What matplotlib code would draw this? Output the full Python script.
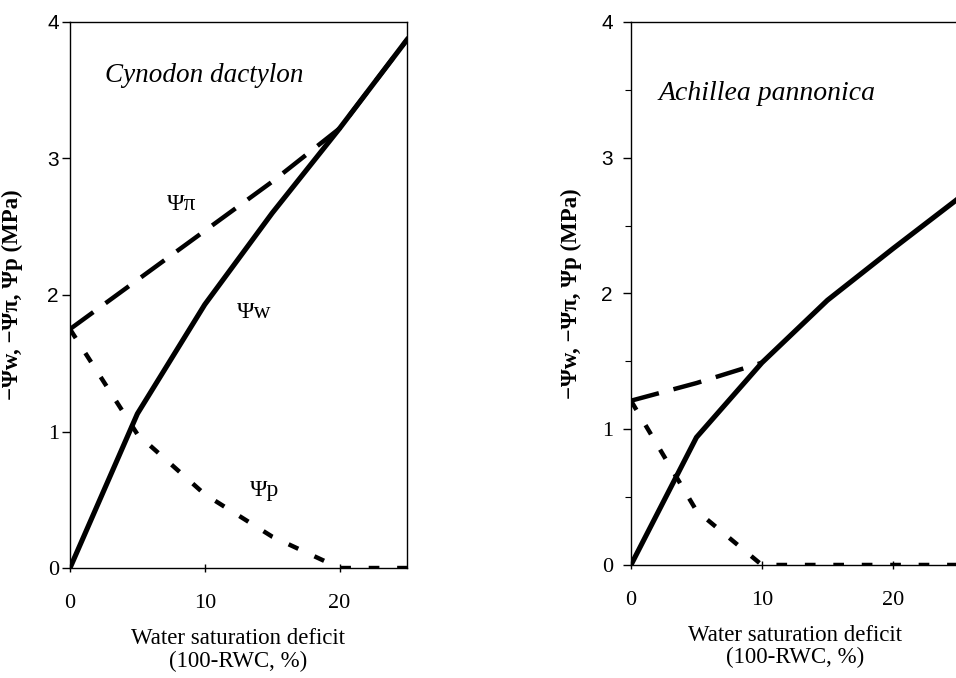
import matplotlib.pyplot as plt
from matplotlib.ticker import MultipleLocator

plt.rcParams['font.family'] = ['Liberation Serif', 'DejaVu Serif']

# water saturation deficit (%)
wsd = [0, 5, 10, 15, 20, 25]

# Cynodon dactylon
cyn_w = [0, 1.13, 1.93, 2.60, 3.22, 3.87]
cyn_pi = [1.75, 2.11, 2.47, 2.83, 3.22, 3.87]
cyn_p = [1.75, 0.98, 0.54, 0.23, 0, 0]

# Achillea pannonica
ach_w = [0, 0.94, 1.49, 1.95, 2.33, 2.70]
ach_pi_x = [0, 5, 10]
ach_pi = [1.21, 1.34, 1.49]
ach_p = [1.21, 0.40, 0, 0, 0, 0]

yticks = [0, 1, 2, 3, 4]
xticks = [0, 10, 20]
ylab = "\u2212\u03a8w, \u2212\u03a8\u03c0, \u03a8p (MPa)"
xlab = "Water saturation deficit\n(100-RWC, %)"

LW = 3.2
long_dash = (0, (6.5, 3.4))
short_dash = (0, (2.4, 4.0))

fig = plt.figure(figsize=(9.56, 6.78), dpi=100)
ax1 = fig.add_axes([0.0732, 0.1622, 0.3525, 0.8054])
ax2 = fig.add_axes([0.6600, 0.1667, 0.3425, 0.8009])


def style(ax, ypad, minor):
    ax.set_xlim(0, 25)
    ax.set_ylim(0, 4)
    ax.set_xticks(xticks)
    ax.set_yticks(yticks)
    for s in ax.spines.values():
        s.set_linewidth(1.0)
    ax.tick_params(axis='x', direction='inout', length=6, width=1, pad=16,
                   labelsize=16)
    ax.tick_params(axis='y', direction='out', length=6, width=1, pad=ypad,
                   labelsize=16)
    if minor:
        ax.yaxis.set_minor_locator(MultipleLocator(0.5))
        ax.tick_params(axis='y', which='minor', direction='out', length=4,
                       width=0.8)
    # scanned figure: upper y labels came out in a sans face
    for lbl in ax.get_yticklabels():
        if lbl.get_text() in ('2', '3', '4'):
            lbl.set_fontfamily(['Liberation Sans', 'DejaVu Sans'])
            lbl.set_fontsize(15)
    ax.set_ylabel(ylab, fontsize=16.5, fontweight='bold')
    ax.set_xlabel(xlab, fontsize=16.5, linespacing=1.1)


# left panel
ax1.plot(wsd, cyn_pi, color='black', lw=LW, ls=long_dash,
         dash_capstyle='butt', zorder=2)
ax1.plot(wsd, cyn_p, color='black', lw=LW, ls=short_dash,
         dash_capstyle='butt', zorder=2)
ax1.plot(wsd, cyn_w, color='black', lw=LW + 0.5, zorder=3)
style(ax1, 2, False)
ax1.yaxis.set_label_coords(-0.14, 0.5)
ax1.xaxis.set_label_coords(0.5, -0.11)
ax1.text(2.6, 3.61, "Cynodon dactylon", style='italic', fontsize=19.5,
         va='center')
ax1.text(8.3, 2.66, "\u03a8\u03c0", fontsize=17, ha='center', va='center')
ax1.text(13.7, 1.87, "\u03a8w", fontsize=17, ha='center', va='center')
ax1.text(14.4, 0.57, "\u03a8p", fontsize=17, ha='center', va='center')

# right panel
ax2.plot(ach_pi_x, ach_pi, color='black', lw=LW, ls=long_dash,
         dash_capstyle='butt', zorder=2)
ax2.plot(wsd, ach_p, color='black', lw=LW, ls=short_dash,
         dash_capstyle='butt', zorder=2)
ax2.plot(wsd, ach_w, color='black', lw=LW + 0.5, zorder=3)
style(ax2, 7, True)
ax2.yaxis.set_label_coords(-0.15, 0.5)
ax2.xaxis.set_label_coords(0.5, -0.11)
ax2.text(2.1, 3.47, "Achillea pannonica", style='italic', fontsize=20,
         va='center')

fig.savefig("out.png", dpi=100)
